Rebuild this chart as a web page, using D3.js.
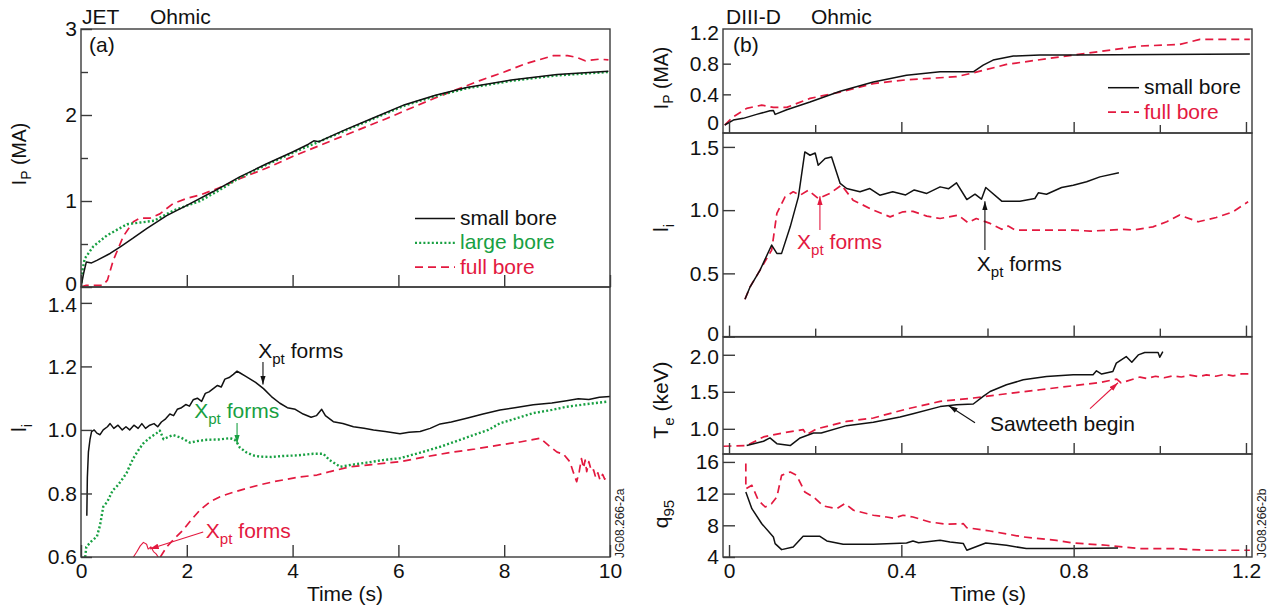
<!DOCTYPE html>
<html lang="en">
<head>
  <meta charset="UTF-8" />
  <title>JET / DIII-D Ohmic ramp-up</title>
  <script src="https://cdn.jsdelivr.net/npm/d3@7/dist/d3.min.js"></script>
  <style>
    html, body { margin: 0; padding: 0; background: #fff; }
    svg { display: block; font-family: "Liberation Sans", Arial, sans-serif; }
  </style>
</head>
<body>
<div id="chart"></div>
<script>
// ---- data: JET (a), time in s ----
const jetIpSmall = [[0,0],[0.05,0.16],[0.1,0.29],[0.2,0.28],[0.3,0.31],[0.55,0.39],[0.75,0.47],[0.99,0.57],[1.24,0.68],[1.62,0.83],[2.0,0.95],[2.5,1.11],[3.0,1.28],[3.5,1.43],[4.0,1.57],[4.3,1.66],[4.4,1.7],[4.5,1.69],[4.6,1.72],[5.0,1.83],[5.5,1.96],[6.12,2.12],[6.7,2.23],[7.29,2.32],[8.17,2.41],[9.0,2.47],[9.97,2.51]];
const jetIpLarge = [[0,0],[0.03,0.2],[0.07,0.33],[0.23,0.47],[0.49,0.6],[0.87,0.73],[1.12,0.75],[1.38,0.77],[1.75,0.89],[2.25,1.0],[2.6,1.12],[3.0,1.27],[3.5,1.42],[4.0,1.56],[4.5,1.69],[5.0,1.82],[5.5,1.95],[6.12,2.11],[6.7,2.22],[7.29,2.31],[8.17,2.4],[9.0,2.46],[9.97,2.5]];
const jetIpFull = [[0,0],[0.1,0.02],[0.41,0.02],[0.5,0.08],[0.61,0.31],[0.8,0.59],[0.99,0.76],[1.11,0.8],[1.3,0.8],[1.49,0.85],[1.74,0.97],[2.0,1.03],[2.25,1.07],[2.6,1.15],[2.86,1.22],[3.0,1.26],[3.5,1.38],[4.01,1.52],[4.77,1.71],[5.78,1.96],[6.66,2.19],[7.54,2.4],[8.0,2.5],[8.42,2.6],[8.93,2.69],[9.2,2.69],[9.37,2.67],[9.53,2.63],[9.81,2.65],[9.97,2.64]];

const jetLiSmall = [[0.11,0.73],[0.12,0.85],[0.14,0.93],[0.17,0.97],[0.2,0.995],[0.25,1.0],[0.3,0.99],[0.36,0.985],[0.42,1.0],[0.5,1.01],[0.55,1.02],[0.62,1.005],[0.7,1.015],[0.78,1.0],[0.85,1.01],[0.92,1.0],[1.0,1.015],[1.08,1.005],[1.15,1.02],[1.22,1.005],[1.3,1.015],[1.38,1.02],[1.45,1.01],[1.52,1.025],[1.6,1.035],[1.68,1.05],[1.75,1.045],[1.82,1.065],[1.9,1.07],[1.98,1.08],[2.05,1.075],[2.12,1.095],[2.2,1.1],[2.28,1.09],[2.35,1.115],[2.42,1.12],[2.5,1.13],[2.58,1.14],[2.65,1.135],[2.72,1.16],[2.8,1.165],[2.88,1.175],[2.95,1.185],[3.0,1.18],[3.1,1.17],[3.2,1.16],[3.3,1.15],[3.45,1.13],[3.6,1.105],[3.76,1.084],[3.9,1.07],[4.05,1.065],[4.2,1.05],[4.35,1.04],[4.45,1.045],[4.55,1.065],[4.62,1.045],[4.77,1.026],[4.95,1.02],[5.15,1.01],[5.35,1.005],[5.53,1.0],[5.75,0.995],[6.03,0.988],[6.2,0.993],[6.41,0.995],[6.6,1.005],[6.79,1.019],[7.0,1.025],[7.29,1.037],[7.6,1.05],[7.92,1.063],[8.2,1.07],[8.55,1.079],[8.9,1.085],[9.18,1.092],[9.4,1.098],[9.6,1.096],[9.8,1.103],[10.0,1.105]];
const jetLiLarge = [[0.08,0.6],[0.1,0.632],[0.2,0.65],[0.3,0.664],[0.36,0.7],[0.42,0.758],[0.5,0.775],[0.6,0.81],[0.67,0.821],[0.76,0.84],[0.86,0.864],[0.93,0.89],[0.99,0.911],[1.1,0.94],[1.18,0.958],[1.3,0.975],[1.43,0.99],[1.49,0.998],[1.56,0.971],[1.65,0.978],[1.74,0.984],[1.9,0.975],[2.06,0.96],[2.2,0.965],[2.38,0.969],[2.6,0.97],[2.82,0.974],[2.9,0.97],[2.94,0.963],[3.0,0.945],[3.13,0.929],[3.25,0.92],[3.38,0.916],[3.6,0.915],[3.82,0.918],[4.1,0.92],[4.39,0.925],[4.58,0.925],[4.7,0.905],[4.9,0.884],[5.1,0.89],[5.4,0.897],[5.7,0.905],[6.03,0.911],[6.4,0.928],[6.79,0.947],[7.1,0.965],[7.42,0.984],[7.7,1.0],[7.92,1.021],[8.2,1.035],[8.55,1.053],[8.9,1.063],[9.18,1.073],[9.5,1.08],[9.94,1.089]];
const jetLiFullEarly = [[0.99,0.6],[1.05,0.615],[1.12,0.635],[1.18,0.646],[1.24,0.64],[1.27,0.625],[1.32,0.632],[1.37,0.617],[1.42,0.61],[1.46,0.6]];
const jetLiFull = [[1.5,0.6],[1.62,0.632],[1.75,0.655],[1.93,0.685],[2.1,0.72],[2.25,0.748],[2.45,0.775],[2.63,0.79],[2.9,0.805],[3.13,0.816],[3.4,0.828],[3.64,0.837],[3.9,0.845],[4.14,0.852],[4.46,0.858],[4.71,0.869],[5.09,0.884],[5.5,0.891],[6.03,0.9],[6.5,0.915],[6.98,0.929],[7.45,0.94],[7.92,0.953],[8.3,0.962],[8.68,0.974],[8.87,0.947],[9.0,0.93],[9.12,0.924],[9.24,0.9],[9.3,0.87],[9.37,0.837],[9.42,0.87],[9.46,0.91],[9.5,0.88],[9.53,0.905],[9.56,0.869],[9.6,0.9],[9.65,0.87],[9.69,0.874],[9.73,0.85],[9.77,0.865],[9.81,0.843],[9.86,0.86],[9.9,0.845],[9.94,0.858]];

// ---- data: DIII-D (b), time in s ----
const d3dIpSmall = [[-0.01,0],[0.01,0.065],[0.033,0.087],[0.064,0.139],[0.095,0.186],[0.103,0.19],[0.107,0.139],[0.134,0.2],[0.188,0.3],[0.258,0.44],[0.335,0.56],[0.412,0.65],[0.49,0.694],[0.513,0.694],[0.567,0.694],[0.59,0.782],[0.613,0.847],[0.66,0.899],[0.722,0.912],[0.8,0.912],[1.0,0.918],[1.209,0.925]];
const d3dIpFull = [[-0.01,0],[0.01,0.108],[0.041,0.217],[0.076,0.26],[0.103,0.23],[0.134,0.23],[0.188,0.347],[0.258,0.43],[0.335,0.54],[0.412,0.59],[0.528,0.63],[0.567,0.68],[0.644,0.79],[0.8,0.913],[0.954,1.03],[1.046,1.05],[1.093,1.117],[1.209,1.117]];

const d3dLiSmall = [[0.037,0.295],[0.049,0.394],[0.072,0.526],[0.099,0.724],[0.111,0.658],[0.122,0.658],[0.142,0.868],[0.161,1.105],[0.176,1.46],[0.188,1.434],[0.2,1.452],[0.207,1.355],[0.223,1.408],[0.238,1.421],[0.258,1.211],[0.273,1.171],[0.304,1.145],[0.327,1.171],[0.35,1.118],[0.38,1.145],[0.41,1.12],[0.43,1.16],[0.459,1.132],[0.49,1.184],[0.51,1.17],[0.528,1.216],[0.552,1.084],[0.571,1.126],[0.586,1.087],[0.596,1.179],[0.633,1.071],[0.675,1.071],[0.71,1.092],[0.718,1.137],[0.737,1.126],[0.772,1.179],[0.799,1.197],[0.83,1.224],[0.861,1.263],[0.905,1.295]];
const d3dLiFull = [[0.037,0.295],[0.049,0.394],[0.072,0.526],[0.099,0.684],[0.111,0.974],[0.13,1.105],[0.149,1.145],[0.165,1.118],[0.184,1.158],[0.207,1.092],[0.234,1.132],[0.261,1.197],[0.288,1.079],[0.335,1.0],[0.374,0.947],[0.404,0.987],[0.427,0.99],[0.459,0.953],[0.49,0.934],[0.532,0.961],[0.555,0.9],[0.574,0.934],[0.606,0.895],[0.633,0.848],[0.648,0.874],[0.664,0.842],[0.722,0.842],[0.799,0.842],[0.838,0.834],[0.915,0.848],[0.938,0.842],[0.984,0.868],[1.016,0.908],[1.046,0.961],[1.089,0.908],[1.131,0.942],[1.17,0.987],[1.205,1.066]];

const d3dTeSmall = [[0.041,0.774],[0.08,0.832],[0.095,0.877],[0.111,0.8],[0.142,0.774],[0.165,0.877],[0.196,0.944],[0.214,0.944],[0.273,1.043],[0.335,1.088],[0.397,1.16],[0.427,1.204],[0.49,1.3],[0.528,1.326],[0.567,1.335],[0.59,1.437],[0.606,1.504],[0.644,1.595],[0.683,1.662],[0.737,1.707],[0.799,1.73],[0.845,1.73],[0.853,1.783],[0.865,1.74],[0.891,1.775],[0.899,1.887],[0.922,1.976],[0.935,1.9],[0.95,1.998],[0.965,2.03],[0.996,2.03],[1.0,1.968],[1.007,2.043]];
const d3dTeFull = [[-0.013,0.765],[0.041,0.774],[0.08,0.891],[0.126,0.945],[0.172,0.99],[0.18,0.92],[0.203,0.998],[0.273,1.1],[0.335,1.146],[0.412,1.267],[0.49,1.37],[0.567,1.416],[0.644,1.474],[0.722,1.528],[0.799,1.582],[0.861,1.626],[0.9,1.671],[0.91,1.62],[0.954,1.699],[0.97,1.68],[0.99,1.71],[1.01,1.69],[1.03,1.716],[1.05,1.7],[1.07,1.725],[1.09,1.705],[1.108,1.729],[1.13,1.71],[1.15,1.735],[1.17,1.715],[1.19,1.742],[1.209,1.743]];

const d3dQSmall = [[0.039,12.2],[0.053,10.1],[0.076,8.2],[0.103,6.53],[0.107,5.69],[0.122,4.93],[0.149,5.26],[0.172,6.61],[0.211,6.61],[0.227,6.02],[0.265,5.6],[0.335,5.6],[0.412,5.77],[0.427,6.02],[0.44,5.8],[0.49,6.1],[0.513,5.9],[0.544,5.69],[0.552,4.85],[0.596,5.77],[0.644,5.48],[0.69,5.06],[0.799,5.06],[0.903,5.14]];
const d3dQFull = [[0.039,15.8],[0.039,12.6],[0.053,13.05],[0.068,11.16],[0.084,10.31],[0.099,10.74],[0.111,11.58],[0.122,14.3],[0.142,14.73],[0.157,14.3],[0.176,12.2],[0.196,11.58],[0.219,10.44],[0.25,10.1],[0.269,10.74],[0.289,9.9],[0.335,9.27],[0.366,9.05],[0.382,8.9],[0.404,9.27],[0.427,9.05],[0.466,8.42],[0.505,8.13],[0.544,8.2],[0.552,7.7],[0.606,7.28],[0.683,6.53],[0.76,6.1],[0.799,5.77],[0.876,5.48],[0.954,5.06],[1.03,5.06],[1.108,4.85],[1.209,4.85]];

// tick values
const jetTimeTicks = [0, 2, 4, 6, 8, 10];
const jetIpTicks = [0, 1, 2, 3];
const jetIpMinor = [0.5, 1.5, 2.5];
const jetLiTicks = [0.6, 0.8, 1.0, 1.2, 1.4];
const d3dTimeTicks = [0, 0.4, 0.8, 1.2];
const d3dTimeMinor = [0.2, 0.6, 1.0];
const d3dIpTicks = [0, 0.4, 0.8, 1.2];
const d3dLiTicks = [0, 0.5, 1.0, 1.5];
const d3dTeTicks = [1.0, 1.5, 2.0];
const d3dQTicks = [4, 8, 12, 16];

const BLACK = "#111", GREEN = "#18a042", RED = "#e3193f";
const FS = 21;

const svg = d3.select("#chart").append("svg").attr("width", 1273).attr("height", 611);
const defs = svg.append("defs");
[["k", BLACK], ["g", GREEN], ["r", RED]].forEach(([id, c]) => {
  defs.append("marker").attr("id", "arr-" + id)
    .attr("viewBox", "0 0 10 6").attr("refX", 10).attr("refY", 3)
    .attr("markerWidth", 9).attr("markerHeight", 5.5)
    .attr("markerUnits", "userSpaceOnUse").attr("orient", "auto")
    .append("path").attr("d", "M0,0L10,3L0,6Z").attr("fill", c);
});

const styles = {
  small: { stroke: BLACK, width: 1.5, dash: null },
  large: { stroke: GREEN, width: 2.4, dash: "2,2.2" },
  full: { stroke: RED, width: 1.7, dash: "8,5" },
  fullThin: { stroke: RED, width: 1.1, dash: null }
};

// scales
const xL = d3.scaleLinear().domain([0, 10]).range([81, 610]);
const yLIp = d3.scaleLinear().domain([0, 3]).range([287, 29]);
const yLLi = d3.scaleLinear().domain([0.6, 1.45]).range([557, 287]);
const xR = d3.scaleLinear().domain([-0.014, 1.214]).range([723, 1252]);
const yRIp = d3.scaleLinear().domain([-0.104, 1.252]).range([133, 29]);
const yRLi = d3.scaleLinear().domain([0, 1.61]).range([336.6, 133]);
const yRTe = d3.scaleLinear().domain([0.66, 2.24]).range([454, 337]);
const yRQ = d3.scaleLinear().domain([4, 17]).range([557, 454]);

let clipN = 0;
function panel(x, y) {
  const [x0, x1] = x.range(), [y0, y1] = y.range();
  const id = "clip" + (clipN++);
  defs.append("clipPath").attr("id", id).append("rect")
    .attr("x", x0).attr("y", y1).attr("width", x1 - x0).attr("height", y0 - y1);
  const g = svg.append("g");
  const plot = g.append("g").attr("clip-path", `url(#${id})`);
  g.append("rect").attr("x", x0).attr("y", y1).attr("width", x1 - x0).attr("height", y0 - y1)
    .attr("fill", "none").attr("stroke", "#3a3a3a").attr("stroke-width", 1.4);
  return { g, plot, x, y };
}

function series(p, data, st) {
  const line = d3.line().x(d => p.x(d[0])).y(d => p.y(d[1]));
  p.plot.append("path").datum(data).attr("d", line)
    .attr("fill", "none").attr("stroke", st.stroke).attr("stroke-width", st.width)
    .attr("stroke-dasharray", st.dash).attr("stroke-linejoin", "round");
}

function styleAxis(sel, labels) {
  sel.select(".domain").remove();
  sel.selectAll(".tick line").attr("stroke", "#3a3a3a").attr("stroke-width", 1.4);
  sel.selectAll(".tick text").attr("font-size", FS).attr("fill", BLACK)
    .attr("font-family", "Liberation Sans, Arial, sans-serif");
  if (!labels) sel.selectAll(".tick text").remove();
}

// nudge: {value: dy} shifts a label a few pixels where stacked panels meet
function yAxis(p, vals, size, fmt, labels, nudge) {
  const a = p.g.append("g").attr("transform", `translate(${p.x.range()[0]},0)`)
    .call(d3.axisLeft(p.y).tickValues(vals).tickSizeInner(-size).tickSizeOuter(0).tickPadding(4).tickFormat(fmt));
  styleAxis(a, labels);
  if (nudge) a.selectAll(".tick text").attr("y", d => nudge[d] || 0);
}
function xAxis(p, vals, size, fmt, labels) {
  const a = p.g.append("g").attr("transform", `translate(0,${p.y.range()[0]})`)
    .call(d3.axisBottom(p.x).tickValues(vals).tickSizeInner(-size).tickSizeOuter(0).tickPadding(6).tickFormat(fmt));
  styleAxis(a, labels);
}

// text with subscripts: parts = [[text, isSub], ...]
function richText(g, parts, color, size) {
  const t = g.append("text").attr("fill", color).attr("font-size", size);
  let sub = false;
  parts.forEach(([s, isSub]) => {
    const ts = t.append("tspan").text(s);
    if (isSub && !sub) ts.attr("dy", size * 0.27).attr("font-size", size * 0.72);
    if (!isSub && sub) ts.attr("dy", -size * 0.27);
    sub = isSub;
  });
  return t;
}
function annot(p, tx, ty, parts, color, size) {
  richText(p.g, parts, color, size || FS).attr("x", p.x(tx)).attr("y", p.y(ty));
}
function arrow(p, a, b, color, id) {
  p.g.append("line").attr("x1", p.x(a[0])).attr("y1", p.y(a[1]))
    .attr("x2", p.x(b[0])).attr("y2", p.y(b[1]))
    .attr("stroke", color).attr("stroke-width", 1.1).attr("marker-end", `url(#arr-${id})`);
}
function yTitle(x, y, parts, size) {
  richText(svg, parts, BLACK, size).attr("text-anchor", "middle")
    .attr("transform", `translate(${x},${y}) rotate(-90)`);
}
const XPT = [["X", false], ["pt", true], [" forms", false]];

// ===== JET (a) =====
const pA1 = panel(xL, yLIp);
series(pA1, jetIpFull, styles.full);
series(pA1, jetIpLarge, styles.large);
series(pA1, jetIpSmall, styles.small);
yAxis(pA1, jetIpTicks, 11, d3.format("d"), true, { 0: -3 });
yAxis(pA1, jetIpMinor, 7, "", false);
xAxis(pA1, jetTimeTicks, 12, "", false);

const pA2 = panel(xL, yLLi);
series(pA2, jetLiFullEarly, styles.fullThin);
series(pA2, jetLiFull, styles.full);
series(pA2, jetLiLarge, styles.large);
series(pA2, jetLiSmall, styles.small);
yAxis(pA2, jetLiTicks, 11, d3.format(".1f"), true, { 1.4: 2 });
xAxis(pA2, jetTimeTicks, 12, d3.format("d"), true);

annot(pA2, 3.35, 1.226, XPT, BLACK);
arrow(pA2, [3.44, 1.214], [3.44, 1.143], BLACK, "k");
annot(pA2, 2.14, 1.037, XPT, GREEN);
arrow(pA2, [2.95, 1.022], [2.95, 0.957], GREEN, "g");
annot(pA2, 2.36, 0.659, XPT, RED);
arrow(pA2, [2.31, 0.679], [1.3, 0.625], RED, "r");

// legend (a)
const legA = [["small bore", styles.small, BLACK], ["large bore", styles.large, GREEN], ["full bore", styles.full, RED]];
legA.forEach(([name, st, c], i) => {
  const yy = 218.5 + i * 24.3;
  svg.append("line").attr("x1", 415).attr("x2", 455).attr("y1", yy).attr("y2", yy)
    .attr("stroke", st.stroke).attr("stroke-width", st === styles.large ? 2.2 : st.width).attr("stroke-dasharray", st.dash);
  svg.append("text").attr("x", 460).attr("y", yy + 6.5).attr("fill", c).attr("font-size", FS).text(name);
});

svg.append("text").attr("x", 82).attr("y", 24).attr("font-size", FS).attr("fill", BLACK).text("JET");
svg.append("text").attr("x", 150).attr("y", 24).attr("font-size", FS).attr("fill", BLACK).text("Ohmic");
svg.append("text").attr("x", 89).attr("y", 52).attr("font-size", FS).attr("fill", BLACK).text("(a)");
yTitle(26, 154, [["I", false], ["P", true], [" (MA)", false]], 19.5);
yTitle(26, 428, [["l", false], ["i", true]], FS);
svg.append("text").attr("x", 345).attr("y", 601).attr("text-anchor", "middle").attr("font-size", FS).attr("fill", BLACK).text("Time (s)");
svg.append("text").attr("transform", "translate(624,558) rotate(-90)").attr("font-size", 12).attr("fill", "#222").text("JG08.266-2a");

// ===== DIII-D (b) =====
const pB1 = panel(xR, yRIp);
series(pB1, d3dIpFull, styles.full);
series(pB1, d3dIpSmall, styles.small);
yAxis(pB1, [0.4, 0.8], 8, "", false);
yAxis(pB1, d3dIpTicks, 0, v => v === 0 ? "0" : d3.format(".1f")(v), true, { 0: -2 });
xAxis(pB1, d3dTimeTicks, 11, "", false);
xAxis(pB1, d3dTimeMinor, 8, "", false);

const pB2 = panel(xR, yRLi);
series(pB2, d3dLiFull, styles.full);
series(pB2, d3dLiSmall, styles.small);
yAxis(pB2, d3dLiTicks, 12, v => v === 0 ? "0" : d3.format(".1f")(v), true, { 0: -3, 1.5: 1 });
xAxis(pB2, d3dTimeTicks, 11, "", false);
xAxis(pB2, d3dTimeMinor, 8, "", false);
annot(pB2, 0.158, 0.69, XPT, RED);
arrow(pB2, [0.211, 0.842], [0.211, 1.11], RED, "r");
annot(pB2, 0.575, 0.52, XPT, BLACK);
arrow(pB2, [0.594, 0.684], [0.594, 1.07], BLACK, "k");

const pB3 = panel(xR, yRTe);
series(pB3, d3dTeFull, styles.full);
series(pB3, d3dTeSmall, styles.small);
yAxis(pB3, d3dTeTicks, 12, d3.format(".1f"), true, { 2: 2 });
xAxis(pB3, d3dTimeTicks, 11, "", false);
xAxis(pB3, d3dTimeMinor, 8, "", false);
annot(pB3, 0.606, 0.966, [["Sawteeth begin", false]], BLACK);
arrow(pB3, [0.571, 1.083], [0.51, 1.312], BLACK, "k");
arrow(pB3, [0.838, 1.272], [0.903, 1.622], RED, "r");

const pB4 = panel(xR, yRQ);
series(pB4, d3dQFull, styles.full);
series(pB4, d3dQSmall, styles.small);
yAxis(pB4, d3dQTicks, 12, d3.format("d"), true);
xAxis(pB4, d3dTimeTicks, 12, v => v === 0 ? "0" : d3.format(".1f")(v), true);

const legB = [["small bore", styles.small, BLACK], ["full bore", styles.full, RED]];
legB.forEach(([name, st, c], i) => {
  const yy = 87.7 + i * 24.5;
  svg.append("line").attr("x1", 1108).attr("x2", 1139).attr("y1", yy).attr("y2", yy)
    .attr("stroke", st.stroke).attr("stroke-width", st.width).attr("stroke-dasharray", st.dash);
  svg.append("text").attr("x", 1144).attr("y", yy + 6.5).attr("fill", c).attr("font-size", FS).text(name);
});

svg.append("text").attr("x", 726).attr("y", 23.5).attr("font-size", FS).attr("fill", BLACK).text("DIII-D");
svg.append("text").attr("x", 811).attr("y", 23.5).attr("font-size", FS).attr("fill", BLACK).text("Ohmic");
svg.append("text").attr("x", 733).attr("y", 52).attr("font-size", FS).attr("fill", BLACK).text("(b)");
yTitle(668, 78, [["I", false], ["P", true], [" (MA)", false]], 19.5);
yTitle(668, 228, [["l", false], ["i", true]], FS);
yTitle(668, 400, [["T", false], ["e", true], [" (keV)", false]], FS);
yTitle(668, 514, [["q", false], ["95", true]], FS);
svg.append("text").attr("x", 988).attr("y", 601).attr("text-anchor", "middle").attr("font-size", FS).attr("fill", BLACK).text("Time (s)");
svg.append("text").attr("transform", "translate(1266,558) rotate(-90)").attr("font-size", 12).attr("fill", "#222").text("JG08.266-2b");
</script>
</body>
</html>
